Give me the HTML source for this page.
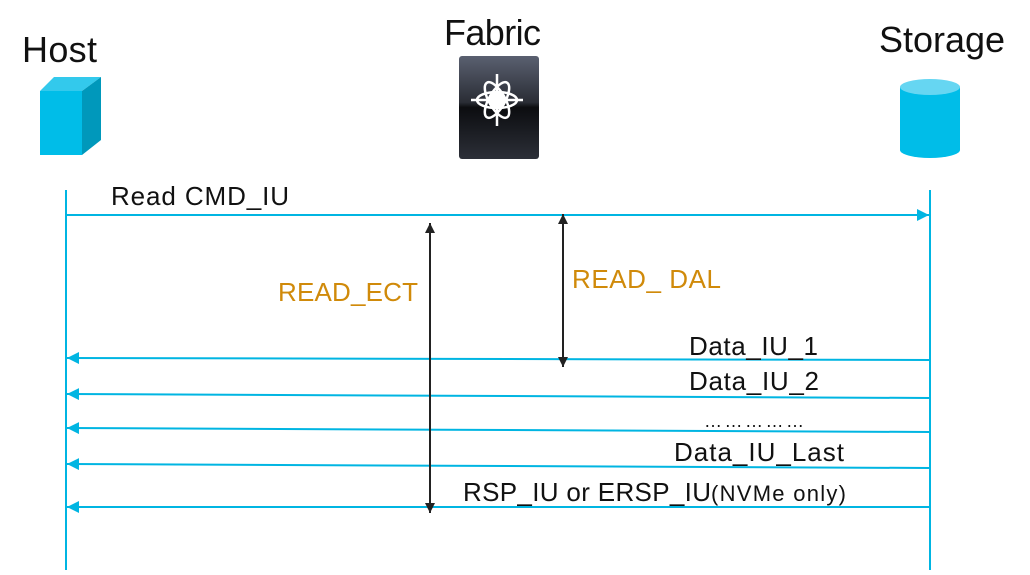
<!DOCTYPE html>
<html><head><style>
body{margin:0;width:1030px;height:570px;background:#fff;overflow:hidden;}
</style></head><body>
<svg width="1030" height="570" xmlns="http://www.w3.org/2000/svg" font-family="Liberation Sans, sans-serif">
<defs>
<linearGradient id="fb" x1="0" y1="0" x2="0" y2="1">
<stop offset="0" stop-color="#5a6070"/><stop offset="0.45" stop-color="#2a2d35"/><stop offset="0.5" stop-color="#0c0d10"/><stop offset="1" stop-color="#2c2f38"/>
</linearGradient>
<marker id="cb" viewBox="0 0 10 10" refX="10" refY="5" markerWidth="6" markerHeight="6" orient="auto-start-reverse"><path d="M0,0L10,5L0,10z" fill="#00b5e2"/></marker>
<marker id="bk" viewBox="0 0 10 10" refX="10" refY="5" markerWidth="5" markerHeight="5" orient="auto-start-reverse"><path d="M0,0L10,5L0,10z" fill="#222"/></marker>
</defs>
<text x="22" y="62" font-size="36" fill="#111" textLength="75">Host</text>
<text x="444" y="45" font-size="36" fill="#111" textLength="97">Fabric</text>
<text x="879" y="52" font-size="36" fill="#111" textLength="126">Storage</text>
<!-- host cube -->
<polygon points="40,91 54,77 101,77 82,91" fill="#33c9ec"/>
<polygon points="82,91 101,77 101,140 82,155" fill="#0098bb"/>
<rect x="40" y="91" width="42" height="64" fill="#00bde8"/>
<!-- fabric -->
<rect x="459" y="56" width="80" height="103" rx="3" fill="url(#fb)"/>
<g transform="translate(497,100)" stroke="#fff" stroke-width="2.5" fill="none">
<ellipse rx="20" ry="8"/><ellipse rx="20" ry="8" transform="rotate(60)"/><ellipse rx="20" ry="8" transform="rotate(-60)"/>
<circle r="7" fill="#fff"/>
<path d="M0,-26V26M-26,0H26"/>
</g>
<!-- storage -->
<rect x="900" y="87" width="60" height="63" fill="#00bde8"/>
<ellipse cx="930" cy="150" rx="30" ry="8" fill="#00bde8"/>
<ellipse cx="930" cy="87" rx="30" ry="8" fill="#66d6f2"/>
<!-- lifelines -->
<line x1="66" y1="190" x2="66" y2="570" stroke="#00b5e2" stroke-width="2"/>
<line x1="930" y1="190" x2="930" y2="570" stroke="#00b5e2" stroke-width="2"/>
<!-- messages -->
<line x1="66" y1="215" x2="929" y2="215" stroke="#00b5e2" stroke-width="2" marker-end="url(#cb)"/>
<text x="111" y="205" font-size="26" fill="#111" textLength="178">Read CMD_IU</text>
<g stroke="#00b5e2" stroke-width="2">
<line x1="930" y1="360" x2="67" y2="358" marker-end="url(#cb)"/>
<line x1="930" y1="398" x2="67" y2="394" marker-end="url(#cb)"/>
<line x1="930" y1="432" x2="67" y2="428" marker-end="url(#cb)"/>
<line x1="930" y1="468" x2="67" y2="464" marker-end="url(#cb)"/>
<line x1="930" y1="507" x2="67" y2="507" marker-end="url(#cb)"/>
</g>
<g font-size="26" fill="#111">
<text x="689" y="355" textLength="129">Data_IU_1</text>
<text x="689" y="390" textLength="130">Data_IU_2</text>
<text x="704" y="427" font-size="18" textLength="100">……………</text>
<text x="674" y="461" textLength="170">Data_IU_Last</text>
<text x="463" y="501" textLength="248">RSP_IU or ERSP_IU</text>
<text x="711" y="501" font-size="22" textLength="135">(NVMe only)</text>
</g>
<!-- vertical measures -->
<line x1="430" y1="223" x2="430" y2="513" stroke="#222" stroke-width="2" marker-start="url(#bk)" marker-end="url(#bk)"/>
<line x1="563" y1="214" x2="563" y2="367" stroke="#222" stroke-width="2" marker-start="url(#bk)" marker-end="url(#bk)"/>
<text x="278" y="301" font-size="26" fill="#d08a0a" textLength="140">READ_ECT</text>
<text x="572" y="288" font-size="26" fill="#d08a0a" textLength="149">READ_ DAL</text>
</svg>
</body></html>
